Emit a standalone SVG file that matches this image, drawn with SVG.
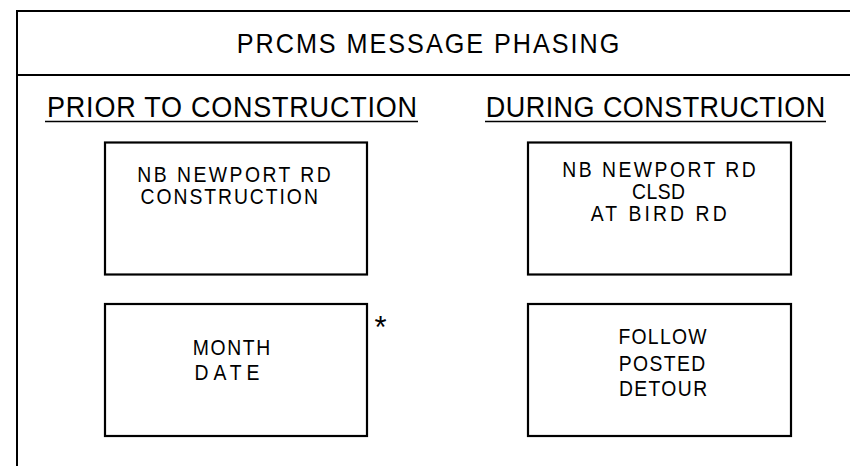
<svg xmlns="http://www.w3.org/2000/svg" width="850" height="466" viewBox="0 0 850 466">
<style>
.ln{stroke:#000;stroke-width:2;fill:none}
.box{stroke:#000;stroke-width:2.2;fill:#fff}
text{font-family:"Liberation Sans",Arial,sans-serif;fill:#000;text-anchor:middle}
.t{font-size:28px}
.h{font-size:30px}
.b{font-size:21.5px}
</style>
<rect width="850" height="466" fill="#fff"/>
<g id="frame">
<path class="ln" d="M17 466 V11 H852 M17 75 H852"/>
</g>
<g id="title"><g transform="translate(428,53) scale(0.9,1)"><text class="t" x="0" y="0" textLength="425" lengthAdjust="spacing">PRCMS MESSAGE PHASING</text></g></g>
<g id="heading-prior">
<g transform="translate(232,117) scale(0.9,1)"><text class="h" x="0" y="0" textLength="411" lengthAdjust="spacing">PRIOR TO CONSTRUCTION</text></g>
<path class="ln" d="M45 121.5 H418" style="stroke-width:1.6"/>
</g>
<g id="heading-during">
<g transform="translate(655.5,117) scale(0.9,1)"><text class="h" x="0" y="0" textLength="377" lengthAdjust="spacing">DURING CONSTRUCTION</text></g>
<path class="ln" d="M485 121.5 H826" style="stroke-width:1.6"/>
</g>
<g id="box-prior-1">
<rect class="box" x="105" y="142.5" width="262" height="132"/>
<g transform="translate(234,181.5) scale(0.9,1)"><text class="b" x="0" y="0" textLength="215" lengthAdjust="spacing">NB NEWPORT RD</text></g>
<g transform="translate(229.2,203.5) scale(0.9,1)"><text class="b" x="0" y="0" textLength="197" lengthAdjust="spacing">CONSTRUCTION</text></g>
</g>
<g id="box-during-1">
<rect class="box" x="528" y="142.5" width="263" height="132"/>
<g transform="translate(659,176.5) scale(0.9,1)"><text class="b" x="0" y="0" textLength="215" lengthAdjust="spacing">NB NEWPORT RD</text></g>
<g transform="translate(658.5,198.5) scale(0.9,1)"><text class="b" x="0" y="0" textLength="59" lengthAdjust="spacing">CLSD</text></g>
<g transform="translate(658.7,221) scale(0.9,1)"><text class="b" x="0" y="0" textLength="151" lengthAdjust="spacing">AT BIRD RD</text></g>
</g>
<g id="box-prior-2">
<rect class="box" x="105" y="304" width="262" height="132"/>
<g transform="translate(231.5,355) scale(0.9,1)"><text class="b" x="0" y="0" textLength="86" lengthAdjust="spacing">MONTH</text></g>
<g transform="translate(227,380) scale(0.9,1)"><text class="b" x="0" y="0" textLength="72" lengthAdjust="spacing">DATE</text></g>
<text x="380.5" y="337.5" style="font-size:31px">*</text>
</g>
<g id="box-during-2">
<rect class="box" x="528" y="304" width="263" height="132"/>
<g transform="translate(662.5,344) scale(0.9,1)"><text class="b" x="0" y="0" textLength="98" lengthAdjust="spacing">FOLLOW</text></g>
<g transform="translate(662,370.5) scale(0.9,1)"><text class="b" x="0" y="0" textLength="96" lengthAdjust="spacing">POSTED</text></g>
<g transform="translate(663,396) scale(0.9,1)"><text class="b" x="0" y="0" textLength="98" lengthAdjust="spacing">DETOUR</text></g>
</g>
<g id="connectors"></g>
</svg>
